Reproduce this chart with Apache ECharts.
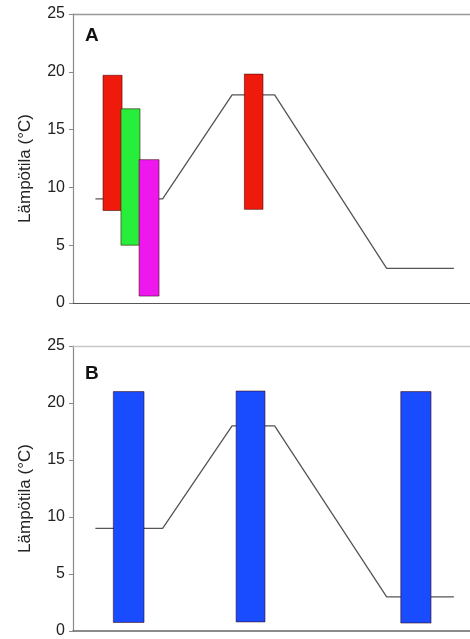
<!DOCTYPE html>
<html>
<head>
<meta charset="utf-8">
<script src="https://cdn.jsdelivr.net/npm/echarts@6/dist/echarts.min.js"></script>
<style>html,body{margin:0;padding:0;background:#fff;}#c{width:470px;height:639px;}</style>
</head>
<body>
<div id="c"></div>
<script>
// Temperature program (same in both panels)
var tempX = [1, 4, 7.1, 9, 14, 17];
var tempY = [9, 9, 18, 18, 3, 3];

// Panel A bars: x-start, x-end, low, high, colour
var barsAStart = [1.34, 2.14, 2.95, 7.65];
var barsAEnd   = [2.19, 2.99, 3.84, 8.48];
var barsALow   = [8.0, 5.0, 0.6, 8.1];
var barsAHigh  = [19.7, 16.8, 12.4, 19.8];
var barsAColor = ['#f01a0c', '#26ee3a', '#ee18ee', '#f01a0c'];

// Panel B bars
var barsBStart = [1.80, 7.28, 14.63];
var barsBEnd   = [3.17, 8.57, 15.98];
var barsBLow   = [0.75, 0.8, 0.7];
var barsBHigh  = [21.0, 21.05, 21.0];
var barsBColor = ['#1a4cff', '#1a4cff', '#1a4cff'];

var yTicks = [0, 5, 10, 15, 20, 25];
var yName = 'Lämpötila (°C)';
var panelLabels = ['A', 'B'];

var FONT = 'Liberation Sans, Arial, sans-serif';

function lineData() {
  return tempX.map(function (x, i) { return [x, tempY[i]]; });
}
function barData(s, e, lo, hi, col) {
  return s.map(function (v, i) {
    return { value: [v, e[i], lo[i], hi[i]], itemStyle: { color: col[i] } };
  });
}
function renderBar(params, api) {
  var p0 = api.coord([api.value(0), api.value(3)]);
  var p1 = api.coord([api.value(1), api.value(2)]);
  return {
    type: 'rect',
    shape: { x: p0[0], y: p0[1], width: p1[0] - p0[0], height: p1[1] - p0[1] },
    style: { fill: api.visual('color'), stroke: 'rgba(60,0,0,0.55)', lineWidth: 1 }
  };
}

var grids = [
  { left: 73, right: 0, top: 14, height: 289 },
  { left: 73, right: 0, top: 346, height: 289 }
];

var xAxes = [], yAxes = [];
[0, 1].forEach(function (g) {
  xAxes.push({
    type: 'value', gridIndex: g, min: 0, max: 17.72, position: 'bottom',
    axisLine: { show: true, onZero: false, lineStyle: { color: g === 0 ? '#555' : '#666', width: g === 0 ? 1.2 : 1.6 } },
    axisTick: { show: false }, axisLabel: { show: false }, splitLine: { show: false }
  });
  xAxes.push({
    type: 'value', gridIndex: g, min: 0, max: 17.72, position: 'top',
    axisLine: { show: true, onZero: false, lineStyle: { color: g === 0 ? '#999' : '#c8c8c8', width: 1.4 } },
    axisTick: { show: false }, axisLabel: { show: false }, splitLine: { show: false }
  });
  yAxes.push({
    type: 'value', gridIndex: g, min: yTicks[0], max: yTicks[yTicks.length - 1], interval: 5,
    name: yName, nameLocation: 'middle', nameGap: 39,
    nameTextStyle: { fontFamily: FONT, fontSize: 17, color: '#222', padding: [0, 20, 0, 0] },
    axisLine: { show: true, lineStyle: { color: '#8a8a8a', width: 1.2 } },
    axisTick: { show: true, inside: false, length: 4, lineStyle: { color: '#8a8a8a' } },
    axisLabel: { fontFamily: FONT, fontSize: 16, color: '#222', margin: 8 },
    splitLine: { show: false }
  });
});

var option = {
  animation: false,
  backgroundColor: '#fff',
  title: [
    { text: panelLabels[0], left: 80, top: 21, textStyle: { fontFamily: FONT, fontSize: 19, fontWeight: 'bold', color: '#111' } },
    { text: panelLabels[1], left: 80, top: 359, textStyle: { fontFamily: FONT, fontSize: 19, fontWeight: 'bold', color: '#111' } }
  ],
  grid: grids,
  xAxis: xAxes,
  yAxis: yAxes,
  series: [
    { type: 'line', xAxisIndex: 0, yAxisIndex: 0, data: lineData(), symbol: 'none', z: 1,
      lineStyle: { color: '#555', width: 1.3 } },
    { type: 'custom', xAxisIndex: 0, yAxisIndex: 0, data: barData(barsAStart, barsAEnd, barsALow, barsAHigh, barsAColor),
      renderItem: renderBar, encode: { x: [0, 1], y: [2, 3] }, z: 3 },
    { type: 'line', xAxisIndex: 2, yAxisIndex: 1, data: lineData(), symbol: 'none', z: 1,
      lineStyle: { color: '#555', width: 1.3 } },
    { type: 'custom', xAxisIndex: 2, yAxisIndex: 1, data: barData(barsBStart, barsBEnd, barsBLow, barsBHigh, barsBColor),
      renderItem: renderBar, encode: { x: [0, 1], y: [2, 3] }, z: 3 }
  ]
};

var chart = echarts.init(document.getElementById('c'), null, { renderer: 'canvas' });
chart.setOption(option);
</script>
</body>
</html>
